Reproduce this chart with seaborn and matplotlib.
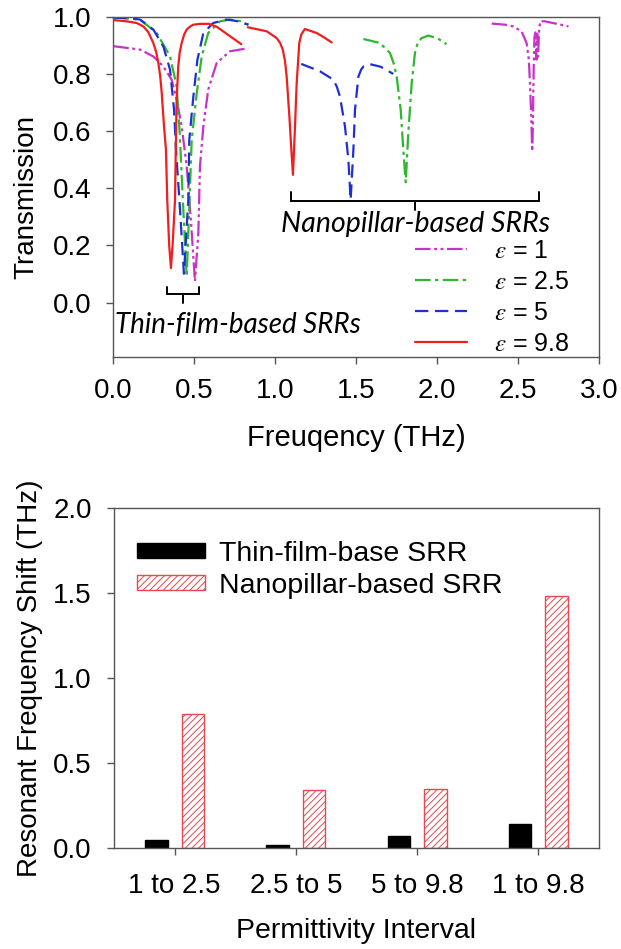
import numpy as np
import pandas as pd
import matplotlib
matplotlib.use("Agg")
import matplotlib.pyplot as plt
from matplotlib.lines import Line2D
from matplotlib.patches import Patch
import seaborn as sns

sns.set_theme(style="white")
plt.rcParams["font.family"] = ["Liberation Sans", "DejaVu Sans"]
plt.rcParams["mathtext.fontset"] = "stix"
plt.rcParams["hatch.linewidth"] = 0.7
plt.rcParams["text.color"] = "black"
plt.rcParams["axes.labelcolor"] = "black"
plt.rcParams["xtick.labelcolor"] = "black"
plt.rcParams["ytick.labelcolor"] = "black"

# ---------------- transmission spectra (frequency in THz, transmission) ----------------
# thin-film-based SRRs
tf_eps1_x = [0.0, 0.165, 0.247, 0.309, 0.36, 0.391, 0.422, 0.453, 0.48, 0.504, 0.525, 0.535, 0.556, 0.586, 0.638, 0.72, 0.833]
tf_eps1_y = [0.897, 0.885, 0.861, 0.826, 0.78, 0.71, 0.617, 0.477, 0.28, 0.075, 0.244, 0.477, 0.617, 0.745, 0.838, 0.879, 0.89]

tf_eps2_x = [0.0, 0.165, 0.268, 0.35, 0.391, 0.41, 0.43, 0.453, 0.47, 0.484, 0.515, 0.546, 0.586, 0.659, 0.72, 0.78, 0.834]
tf_eps2_y = [0.997, 0.99, 0.943, 0.862, 0.757, 0.593, 0.35, 0.092, 0.35, 0.57, 0.733, 0.862, 0.943, 0.984, 0.99, 0.985, 0.972]

tf_eps5_x = [0.0, 0.1, 0.165, 0.247, 0.309, 0.35, 0.375, 0.387, 0.408, 0.436, 0.463, 0.469, 0.494, 0.519, 0.556, 0.617, 0.70, 0.76, 0.834]
tf_eps5_y = [0.997, 0.995, 0.99, 0.955, 0.896, 0.815, 0.675, 0.535, 0.36, 0.101, 0.36, 0.57, 0.72, 0.849, 0.943, 0.978, 0.99, 0.985, 0.972]

tf_eps98_x = [0.0, 0.08, 0.144, 0.185, 0.215, 0.247, 0.265, 0.278, 0.29, 0.299, 0.313, 0.325, 0.333, 0.345, 0.356, 0.368, 0.381, 0.386, 0.391, 0.401, 0.41, 0.422, 0.437, 0.453, 0.475, 0.494, 0.535, 0.59, 0.638, 0.70, 0.79]
tf_eps98_y = [0.988, 0.984, 0.978, 0.966, 0.947, 0.908, 0.876, 0.838, 0.790, 0.733, 0.617, 0.535, 0.36, 0.2, 0.121, 0.22, 0.36, 0.55, 0.71, 0.826, 0.875, 0.908, 0.937, 0.955, 0.966, 0.972, 0.975, 0.975, 0.965, 0.94, 0.904]

# nanopillar-based SRRs
np_eps1_x = [2.336, 2.42, 2.469, 2.52, 2.551, 2.565, 2.572, 2.58, 2.586, 2.59, 2.592, 2.596, 2.60, 2.606, 2.612, 2.617, 2.622, 2.628, 2.635, 2.661, 2.73, 2.81]
np_eps1_y = [0.976, 0.972, 0.966, 0.949, 0.908, 0.85, 0.768, 0.65, 0.53, 0.62, 0.71, 0.85, 0.93, 0.945, 0.85, 0.94, 0.86, 0.95, 0.984, 0.984, 0.976, 0.966]

np_eps2_x = [1.544, 1.646, 1.708, 1.73, 1.749, 1.774, 1.79, 1.805, 1.821, 1.842, 1.862, 1.88, 1.903, 1.944, 2.0, 2.057]
np_eps2_y = [0.922, 0.908, 0.873, 0.838, 0.791, 0.675, 0.535, 0.421, 0.593, 0.768, 0.873, 0.91, 0.925, 0.934, 0.925, 0.904]

np_eps5_x = [1.16, 1.276, 1.358, 1.38, 1.399, 1.43, 1.451, 1.465, 1.482, 1.492, 1.513, 1.53, 1.544, 1.585, 1.65, 1.728]
np_eps5_y = [0.835, 0.809, 0.78, 0.755, 0.721, 0.617, 0.5, 0.36, 0.535, 0.675, 0.791, 0.815, 0.826, 0.834, 0.825, 0.80]

np_eps98_x = [0.83, 0.947, 1.009, 1.03, 1.046, 1.06, 1.07, 1.087, 1.099, 1.109, 1.12, 1.132, 1.148, 1.16, 1.173, 1.183, 1.255, 1.30, 1.348]
np_eps98_y = [0.963, 0.949, 0.925, 0.908, 0.885, 0.845, 0.791, 0.651, 0.535, 0.447, 0.593, 0.768, 0.908, 0.937, 0.949, 0.957, 0.943, 0.928, 0.910]

eps_labels = [r"$\varepsilon$ = 1", r"$\varepsilon$ = 2.5", r"$\varepsilon$ = 5", r"$\varepsilon$ = 9.8"]
eps_colors = ["#c832c8", "#2db82d", "#1f2fd6", "#f01e1e"]
eps_dashes = [(0, (7, 1.6, 1.3, 1.6, 1.3, 1.6)), (0, (7, 2.0, 1.5, 2.0)), (0, (6, 3)), "-"]

# ---------------- resonant frequency shift ----------------
intervals = ["1 to 2.5", "2.5 to 5", "5 to 9.8", "1 to 9.8"]
shift_thin_film = [0.05, 0.02, 0.07, 0.14]
shift_nanopillar = [0.79, 0.34, 0.35, 1.48]
bar_groups = ["Thin-film-base SRR", "Nanopillar-based SRR"]

W, H = 621, 949
fig = plt.figure(figsize=(W / 100, H / 100), dpi=100)
ax1 = fig.add_axes([113.3 / W, 1 - 357 / H, 486 / W, 340.3 / H])
ax2 = fig.add_axes([114 / W, 1 - 848 / H, 485 / W, 340 / H])

spine_color = "#555555"
for ax in (ax1, ax2):
    for s in ax.spines.values():
        s.set_color(spine_color)
        s.set_linewidth(1.0)
    ax.tick_params(axis="both", which="major", direction="out", length=5, width=1,
                   color=spine_color, labelsize=20, left=True, bottom=True)
    ax.tick_params(axis="y", pad=11)

ax1.tick_params(axis="x", pad=10)
ax2.tick_params(axis="x", pad=13)

# ---- top panel ----
segments = [
    (tf_eps1_x, tf_eps1_y, 0), (np_eps1_x, np_eps1_y, 0),
    (tf_eps2_x, tf_eps2_y, 1), (np_eps2_x, np_eps2_y, 1),
    (tf_eps5_x, tf_eps5_y, 2), (np_eps5_x, np_eps5_y, 2),
    (tf_eps98_x, tf_eps98_y, 3), (np_eps98_x, np_eps98_y, 3),
]
for xs, ys, k in segments:
    sns.lineplot(x=xs, y=ys, ax=ax1, color=eps_colors[k], sort=False,
                 estimator=None, linewidth=1.6)
    ax1.lines[-1].set_linestyle(eps_dashes[k])

ax1.set_xlim(0, 3.0)
ax1.set_ylim(-0.19, 1.0)
ax1.set_xticks(np.arange(0, 3.01, 0.5))
ax1.set_yticks(np.arange(0, 1.01, 0.2))
ax1.set_xticklabels([f"{v:.1f}" for v in np.arange(0, 3.01, 0.5)])
ax1.set_yticklabels([f"{v:.1f}" for v in np.arange(0, 1.01, 0.2)])
ax1.set_xlabel("Freuqency (THz)", fontsize=21)
ax1.set_ylabel("Transmission", fontsize=20)
ax1.xaxis.set_label_coords(0.5, -0.238)
ax1.xaxis.label.set_va("center")
ax1.yaxis.set_label_coords(-0.178, 0.47)
ax1.yaxis.label.set_va("center")

# brackets marking the two groups of resonances
def bracket(ax, x0, x1, y, hook, tail):
    xm = 0.5 * (x0 + x1)
    ax.plot([x0, x0, x1, x1], [y + hook, y, y, y + hook], color="black", lw=1.4,
            solid_joinstyle="miter")
    ax.plot([xm, xm], [y, y - tail], color="black", lw=1.4)

bracket(ax1, 0.33, 0.531, 0.031, 0.024, 0.032)
bracket(ax1, 1.095, 2.63, 0.357, 0.03, 0.032)
ax1.text(0.77, -0.077, "Thin-film-based SRRs", fontsize=20, style="italic",
         family=["Lato", "DejaVu Sans"], ha="center", va="center")
ax1.text(1.867, 0.275, "Nanopillar-based SRRs", fontsize=20.5, style="italic",
         family=["Lato", "DejaVu Sans"], ha="center", va="center")

handles = [Line2D([], [], color=c, lw=1.6, linestyle=d) for c, d in zip(eps_colors, eps_dashes)]
ax1.legend(handles, eps_labels, loc="lower left", bbox_to_anchor=(0.6, -0.025),
           frameon=False, fontsize=18, handlelength=2.1, handletextpad=1.05,
           labelspacing=0.28, borderaxespad=0)

# ---- bottom panel ----
df = pd.DataFrame({
    "Permittivity Interval": intervals * 2,
    "shift": shift_thin_film + shift_nanopillar,
    "type": [bar_groups[0]] * len(intervals) + [bar_groups[1]] * len(intervals),
})
sns.barplot(data=df, x="Permittivity Interval", y="shift", hue="type",
            palette=["black", "white"], width=0.602, gap=0.38, ax=ax2,
            legend=False, saturation=1)
n = len(intervals)
for i, bar in enumerate(ax2.patches[:2 * n]):
    if i < n:
        bar.set_edgecolor("black")
        bar.set_linewidth(1.0)
    else:
        bar.set_facecolor("white")
        bar.set_edgecolor("#e8484f")
        bar.set_hatch("/////")
        bar.set_linewidth(1.0)

ax2.set_xlim(-0.5, 3.5)
ax2.set_ylim(0, 2.0)
ax2.set_yticks(np.arange(0, 2.01, 0.5))
ax2.set_yticklabels([f"{v:.1f}" for v in np.arange(0, 2.01, 0.5)])
ax2.set_xlabel("Permittivity Interval", fontsize=20.5)
ax2.set_ylabel("Resonant Frequency Shift (THz)", fontsize=20)
ax2.xaxis.set_label_coords(0.5, -0.245)
ax2.xaxis.label.set_va("center")
ax2.yaxis.set_label_coords(-0.173, 0.5)
ax2.yaxis.label.set_va("center")

bar_handles = [Patch(facecolor="black", edgecolor="black"),
               Patch(facecolor="white", edgecolor="#e8484f", hatch="/////")]
ax2.legend(bar_handles, bar_groups, loc="upper left", bbox_to_anchor=(0.023, 0.937),
           frameon=False, fontsize=20.5, handlelength=2.4, handleheight=0.42,
           handletextpad=0.5, labelspacing=0.2, borderaxespad=0)

fig.savefig("out.png", dpi=100)
